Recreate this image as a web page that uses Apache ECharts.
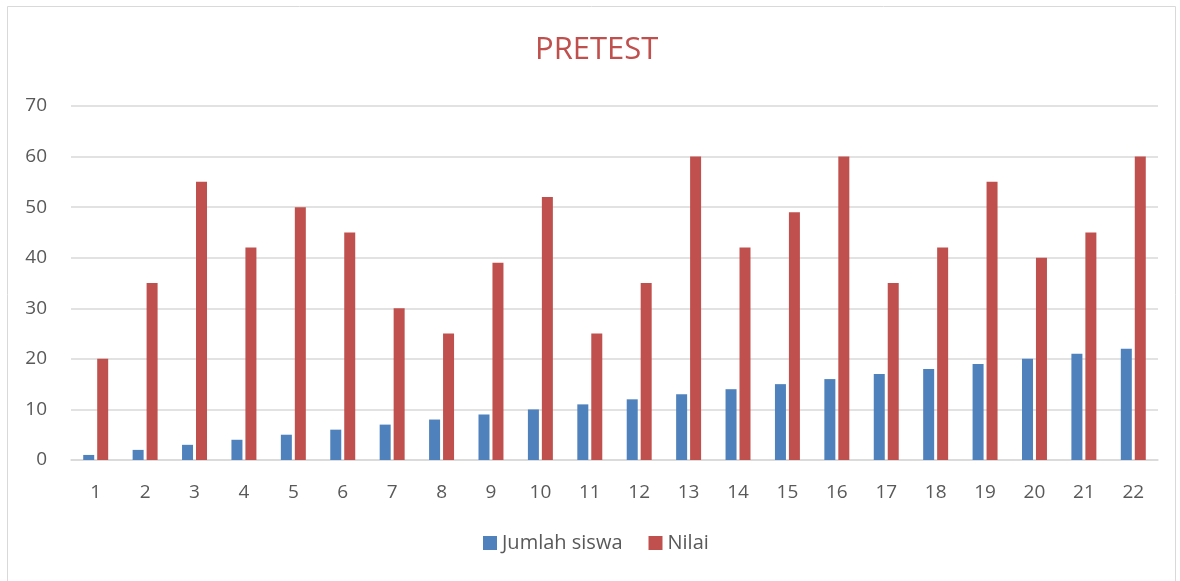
<!DOCTYPE html>
<html>
<head>
<meta charset="utf-8">
<script src="https://cdn.jsdelivr.net/npm/echarts@6/dist/echarts.min.js"></script>
<style>
  html, body { margin: 0; padding: 0; background: #fff; }
  #chart { width: 1180px; height: 581px; }
</style>
</head>
<body>
<div id="chart"></div>
<script>
// data
const categories = ["1","2","3","4","5","6","7","8","9","10","11","12","13","14","15","16","17","18","19","20","21","22"];
const jumlahSiswa = [1,2,3,4,5,6,7,8,9,10,11,12,13,14,15,16,17,18,19,20,21,22];
const nilai = [20,35,55,42,50,45,30,25,39,52,25,35,60,42,49,60,35,42,55,40,45,60];

const chart = echarts.init(document.getElementById("chart"));
const textColor = "#595959";
const font = "'Open Sans', sans-serif";

chart.setOption({
  animation: false,
  graphic: [
    {
      type: "rect",
      shape: { x: 7.5, y: 6.5, width: 1168, height: 580 },
      style: { fill: "none", stroke: "#d9d9d9", lineWidth: 1 },
      silent: true,
    },
  ],
  title: {
    text: "PRETEST",
    left: 530,
    top: 30,
    textStyle: { color: "#C0504D", fontSize: 31, fontWeight: "normal", fontFamily: font },
  },
  legend: {
    bottom: 23,
    left: 478,
    itemWidth: 14,
    itemHeight: 14,
    itemGap: 26,
    icon: "rect",
    textStyle: { color: textColor, fontSize: 20, fontFamily: font },
    data: ["Jumlah siswa", "Nilai"],
  },
  grid: {
    left: 71,
    right: 22,
    top: 106,
    bottom: 121,
  },
  xAxis: {
    type: "category",
    data: categories,
    axisTick: { show: false },
    axisLine: { lineStyle: { color: "#d9d9d9", width: 1.5 } },
    axisLabel: { color: textColor, fontSize: 19, fontFamily: font, margin: 23 },
  },
  yAxis: {
    type: "value",
    min: 0,
    max: 70,
    interval: 10,
    axisLine: { show: false },
    axisTick: { show: false },
    splitLine: { lineStyle: { color: "#d9d9d9", width: 1.5 } },
    axisLabel: { color: textColor, fontSize: 19, fontFamily: font, margin: 24 },
  },
  series: [
    {
      name: "Jumlah siswa",
      type: "bar",
      data: jumlahSiswa,
      barWidth: 11,
      barGap: "27%",
      itemStyle: { color: "#4F81BD" },
    },
    {
      name: "Nilai",
      type: "bar",
      data: nilai,
      barWidth: 11,
      itemStyle: { color: "#C0504D" },
    },
  ],
});
</script>
</body>
</html>
